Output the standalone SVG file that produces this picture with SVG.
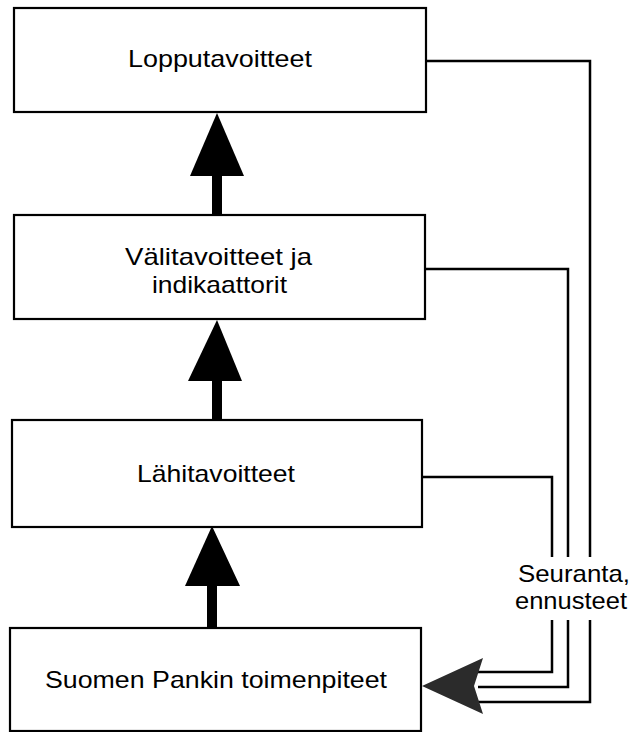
<svg xmlns="http://www.w3.org/2000/svg" width="633" height="732" viewBox="0 0 633 732">
<style>
.box{fill:#fff;stroke:#000;stroke-width:2.2}
.t{font-family:"Liberation Sans",Arial,sans-serif;font-size:24px;fill:#000}
.fb{fill:none;stroke:#000;stroke-width:2.5}
.shaft{fill:#000}
.head{fill:#000}
</style>
<rect width="633" height="732" fill="#fff"/>
<g id="connectors">
  <rect class="shaft" x="212" y="170" width="10" height="46"/>
  <polygon class="head" points="217,113 244,176 190,176"/>
  <rect class="shaft" x="212" y="375" width="10" height="46"/>
  <polygon class="head" points="217,320 242,381 188,381"/>
  <rect class="shaft" x="207" y="580" width="10" height="49"/>
  <polygon class="head" points="212,526 240,586 185,586"/>
  <path class="fb" d="M426,61 H590 V557 M590,620 V702 H478"/>
  <path class="fb" d="M424,269 H568 V557 M568,620 V687 H478"/>
  <path class="fb" d="M422,477 H552 V557 M552,620 V672 H478"/>
  <polygon points="422,686 483,658 474,686 483,714" fill="#2b2b2b"/>
</g>
<g id="node-lopputavoitteet">
  <rect class="box" x="14" y="8" width="412" height="104"/>
  <text class="t" x="128" y="67" textLength="184" lengthAdjust="spacingAndGlyphs">Lopputavoitteet</text>
</g>
<g id="node-valitavoitteet">
  <rect class="box" x="14" y="215" width="411" height="104"/>
  <text class="t" x="125" y="265" textLength="187" lengthAdjust="spacingAndGlyphs">Välitavoitteet ja</text>
  <text class="t" x="152" y="293" textLength="135" lengthAdjust="spacingAndGlyphs">indikaattorit</text>
</g>
<g id="node-lahitavoitteet">
  <rect class="box" x="12" y="420" width="410" height="107"/>
  <text class="t" x="137" y="482" textLength="158" lengthAdjust="spacingAndGlyphs">Lähitavoitteet</text>
</g>
<g id="node-suomen-pankki">
  <rect class="box" x="10" y="628" width="411" height="103"/>
  <text class="t" x="45" y="688" textLength="342" lengthAdjust="spacingAndGlyphs">Suomen Pankin toimenpiteet</text>
</g>
<g id="label-seuranta">
  <text class="t" x="518" y="582" textLength="112" lengthAdjust="spacingAndGlyphs">Seuranta,</text>
  <text class="t" x="515" y="609" textLength="112" lengthAdjust="spacingAndGlyphs">ennusteet</text>
</g>
</svg>
